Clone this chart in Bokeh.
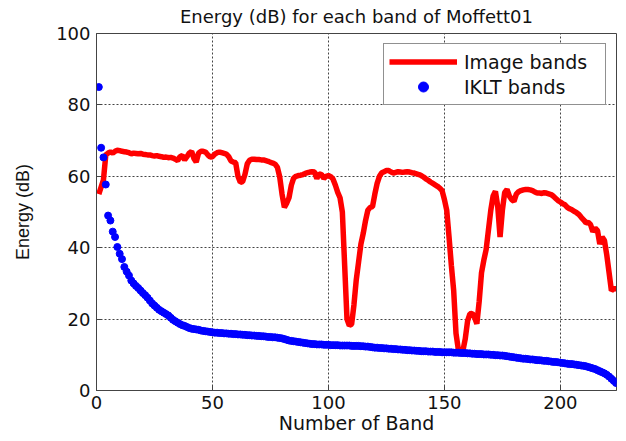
from bokeh.plotting import figure
from bokeh.models import Range1d, Legend, LegendItem, FixedTicker
from bokeh.embed import file_html
from bokeh.resources import INLINE

bands = list(range(1, 225))

image_db = [
    55.0, 57.0, 59.0, 66.0, 66.5, 66.8, 66.5, 67.0, 67.3, 67.2,
    67.0, 66.9, 66.8, 66.6, 66.3, 66.5, 66.4, 66.3, 66.4, 66.2,
    66.1, 66.0, 66.0, 65.8, 65.7, 65.8, 65.6, 65.5, 65.3, 65.4,
    65.2, 65.3, 65.1, 64.8, 64.4, 65.5, 65.8, 64.6, 65.5, 66.5,
    67.0, 65.0, 64.0, 66.5, 67.0, 67.0, 66.8, 66.0, 65.4, 65.5,
    66.2, 66.6, 66.8, 66.6, 66.4, 66.2, 65.5, 64.3, 64.0, 63.8,
    60.0, 58.3, 58.5, 60.5, 63.5, 64.5, 64.8, 64.8, 64.7, 64.7,
    64.6, 64.6, 64.4, 64.2, 63.9, 63.7, 63.4, 62.5, 59.8, 55.0,
    51.3, 52.5, 54.0, 57.5, 59.5, 60.0, 60.2, 60.3, 60.5, 60.8,
    61.0, 61.2, 61.3, 61.2, 59.4, 60.7, 60.5, 59.4, 60.0, 60.2,
    59.9, 59.2, 57.5, 55.5, 54.0, 50.0, 35.0, 20.0, 18.2, 18.6,
    24.0, 31.0, 36.0, 41.0, 44.0, 47.6, 50.5, 51.3, 51.5, 55.0,
    58.0, 60.0, 61.0, 61.3, 61.6, 61.6, 61.2, 60.9, 61.1, 61.3,
    61.2, 61.1, 61.2, 61.3, 61.2, 61.0, 60.9, 60.7, 60.5, 60.2,
    59.8, 59.3, 58.9, 58.4, 58.0, 57.6, 57.2, 56.7, 56.0, 53.5,
    50.5, 43.0, 35.0, 28.0, 16.0, 11.5, 11.2, 11.2, 14.5, 19.5,
    21.5, 21.6, 20.5, 18.7, 25.0, 33.0, 36.5, 39.5, 45.0, 50.5,
    54.5, 55.8, 51.5, 43.0, 50.5, 55.5, 56.3, 54.5, 53.5, 53.0,
    55.0, 55.7, 56.0, 56.2, 56.3, 56.3, 56.2, 56.0, 55.6, 55.3,
    55.3, 55.2, 55.4, 55.3, 55.1, 54.9, 54.4, 53.8, 53.2, 52.8,
    52.3, 52.0, 51.3, 50.9, 50.6, 50.2, 49.8, 49.3, 48.5, 47.8,
    47.0, 47.1, 46.5, 44.5, 45.5, 44.8, 41.0, 43.0, 42.0, 38.0,
    33.0, 28.0, 28.5, 28.5,
]

iklt_db = [
    85.0, 68.0, 65.3, 57.7, 49.0, 47.6, 44.5, 43.0, 40.2, 38.3,
    36.8, 34.6, 33.3, 32.2, 30.8, 30.0, 29.3, 28.7, 28.0, 27.3,
    26.7, 26.0, 25.2, 24.4, 23.8, 23.2, 22.6, 22.2, 21.8, 21.4,
    21.0, 20.4, 19.8, 19.4, 19.0, 18.6, 18.3, 18.1, 17.8, 17.5,
    17.3, 17.2, 17.1, 17.0, 16.8, 16.7, 16.6, 16.5, 16.4, 16.3,
    16.2, 16.2, 16.1, 16.1, 16.0, 16.0, 15.9, 15.9, 15.8, 15.8,
    15.7, 15.7, 15.6, 15.6, 15.5, 15.5, 15.4, 15.4, 15.3, 15.3,
    15.2, 15.2, 15.1, 15.0, 15.0, 14.9, 14.9, 14.8, 14.7, 14.6,
    14.4, 14.2, 14.0, 13.9, 13.8, 13.7, 13.6, 13.5, 13.4, 13.3,
    13.2, 13.1, 13.0, 13.0, 12.9, 12.9, 12.9, 12.8, 12.8, 12.8,
    12.7, 12.7, 12.7, 12.7, 12.6, 12.6, 12.6, 12.6, 12.6, 12.5,
    12.5, 12.5, 12.5, 12.4, 12.4, 12.3, 12.3, 12.2, 12.1, 12.0,
    12.0, 11.9, 11.9, 11.8, 11.8, 11.7, 11.7, 11.6, 11.6, 11.5,
    11.5, 11.4, 11.4, 11.3, 11.3, 11.2, 11.2, 11.1, 11.1, 11.0,
    11.0, 11.0, 10.9, 10.9, 10.9, 10.8, 10.8, 10.8, 10.7, 10.7,
    10.7, 10.7, 10.7, 10.6, 10.6, 10.6, 10.5, 10.5, 10.5, 10.4,
    10.4, 10.3, 10.3, 10.2, 10.2, 10.2, 10.1, 10.1, 10.1, 10.0,
    10.0, 9.9, 9.9, 9.8, 9.8, 9.7, 9.6, 9.5, 9.4, 9.3,
    9.2, 9.1, 9.0, 8.9, 8.9, 8.8, 8.7, 8.7, 8.6, 8.5,
    8.5, 8.4, 8.3, 8.3, 8.2, 8.1, 8.0, 8.0, 7.9, 7.8,
    7.7, 7.6, 7.5, 7.4, 7.4, 7.3, 7.2, 7.1, 7.0, 6.9,
    6.8, 6.6, 6.4, 6.2, 6.0, 5.7, 5.4, 5.1, 4.8, 4.4,
    3.9, 3.3, 2.7, 2.1,
]

x_ticks = [0, 50, 100, 150, 200]
y_ticks = [0, 20, 40, 60, 80, 100]

FONT = "DejaVu Sans"

p = figure(
    frame_width=520, frame_height=357,
    x_range=Range1d(0, 224.2), y_range=Range1d(0, 100),
    output_backend="svg", toolbar_location=None,
    min_border_left=96, min_border_right=1, min_border_top=25, min_border_bottom=42,
    title="Energy (dB) for each band of Moffett01",
)
p.title.align = "center"
p.title.vertical_align = "top"
p.title.text_font = FONT
p.title.text_font_size = "18px"
p.title.text_font_style = "normal"
p.title.text_color = "#111111"
p.title.standoff = 10

p.outline_line_color = "#444444"
p.background_fill_color = "white"
p.border_fill_color = "white"

for ax in (p.xaxis[0], p.yaxis[0]):
    ax.axis_line_color = "#444444"
    ax.major_tick_line_color = "#444444"
    ax.major_tick_in = 5
    ax.major_tick_out = 0
    ax.minor_tick_line_color = None
    ax.major_label_text_font = FONT
    ax.major_label_text_font_size = "18px"
    ax.major_label_text_color = "#111111"
    ax.axis_label_text_font_style = "normal"
    ax.axis_label_text_color = "#111111"

p.xaxis.axis_label_text_font = FONT
p.xaxis.axis_label_text_font_size = "19px"
p.yaxis.axis_label_text_font = "Liberation Sans"
p.yaxis.axis_label_text_font_size = "18px"

p.xaxis.ticker = FixedTicker(ticks=x_ticks)
p.yaxis.ticker = FixedTicker(ticks=y_ticks)
p.xaxis.axis_label = "Number of Band"
p.yaxis.axis_label = "Energy (dB)"
p.xaxis.major_label_standoff = 5
p.xaxis.axis_label_standoff = 0
p.yaxis.major_label_standoff = 6
p.yaxis.axis_label_standoff = 20

p.xgrid.ticker = FixedTicker(ticks=x_ticks)
p.ygrid.ticker = FixedTicker(ticks=y_ticks)
p.grid.grid_line_color = "#444444"
p.grid.grid_line_dash = "2 2"
p.grid.grid_line_width = 1

r_img = p.line(bands, image_db, line_width=5.5, line_color="#ff0000")
r_iklt = p.scatter(bands, iklt_db, size=7, marker="circle",
                   fill_color="#0000ff", line_color="#0000ff")

legend = Legend(items=[
    LegendItem(label="Image bands", renderers=[r_img]),
    LegendItem(label="IKLT bands", renderers=[r_iklt]),
], location="top_right")
legend.label_text_font = FONT
legend.label_text_font_size = "19px"
legend.label_text_color = "#111111"
legend.glyph_width = 68
legend.glyph_height = 25
legend.label_height = 25
legend.label_width = 136
legend.label_standoff = 7
legend.spacing = 0
legend.padding = 5
legend.margin = 10
legend.border_line_color = "#222222"
legend.border_line_width = 1
legend.background_fill_color = "white"
legend.background_fill_alpha = 1.0
p.add_layout(legend)

open("out.html", "w").write(file_html(p, INLINE))
